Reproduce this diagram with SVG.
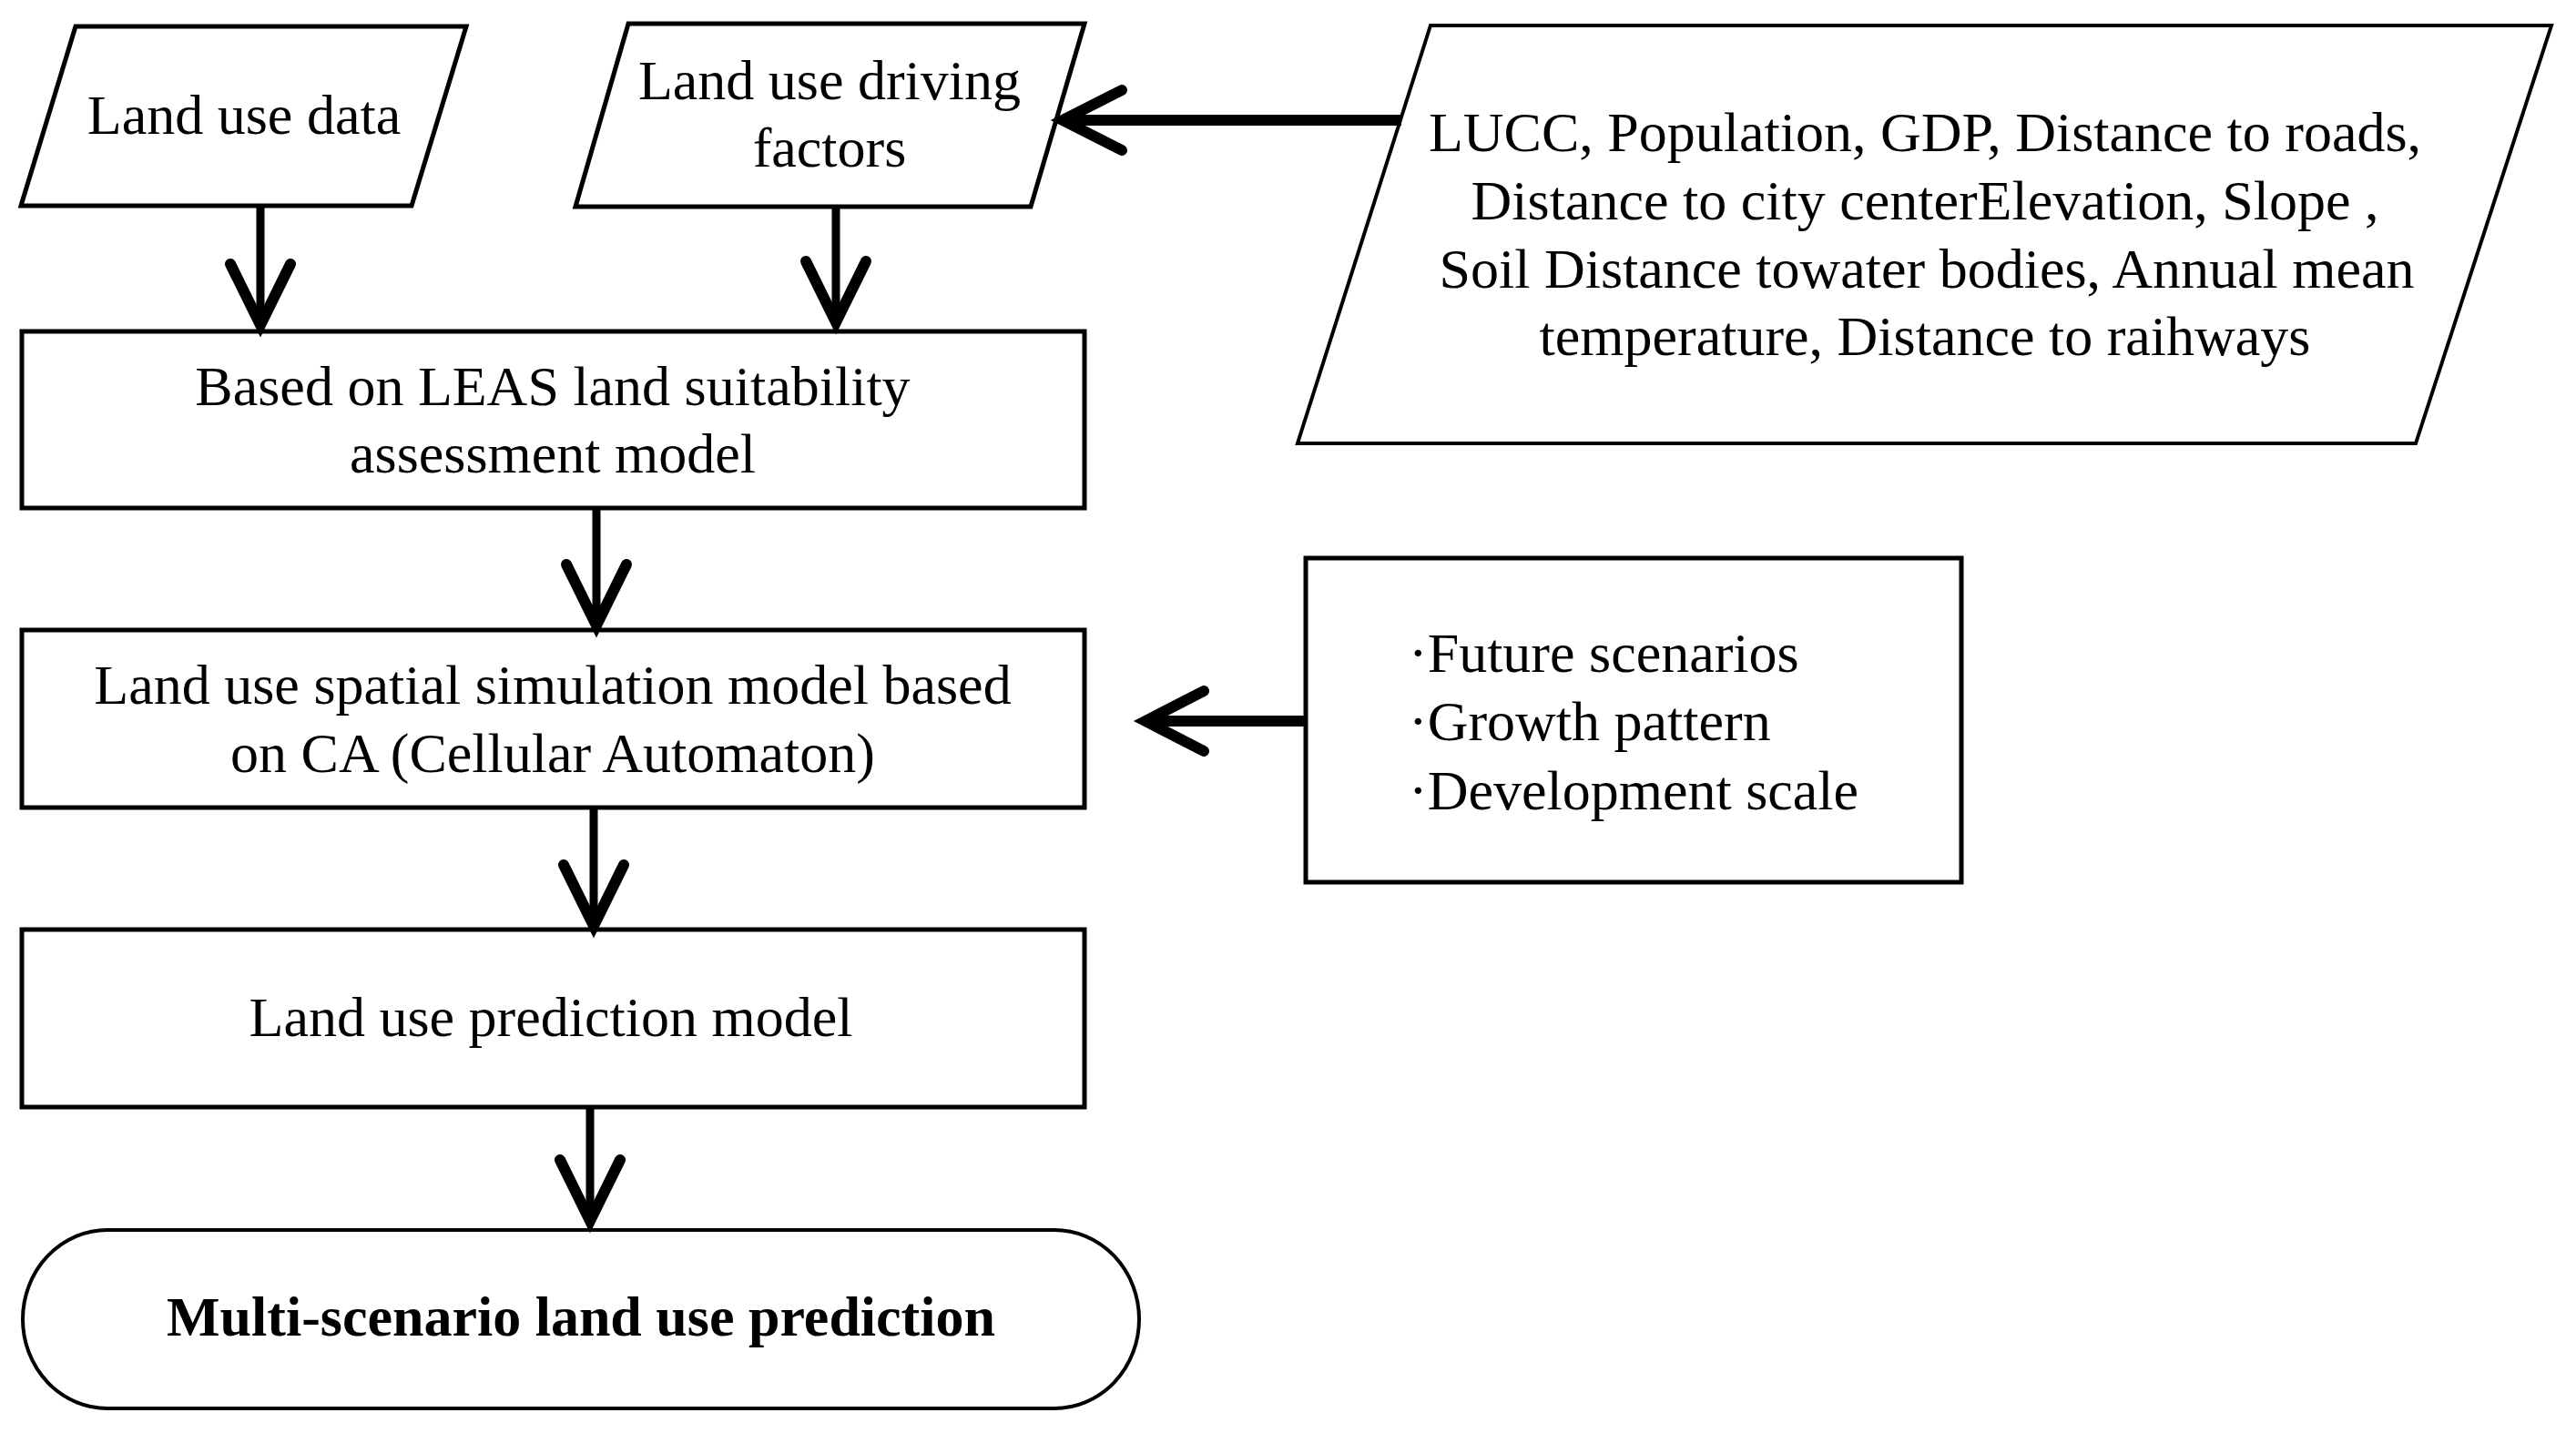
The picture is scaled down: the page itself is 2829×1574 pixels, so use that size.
<svg xmlns="http://www.w3.org/2000/svg" width="2829" height="1574" viewBox="0 0 2829 1574">
<style>
.shape{fill:#fff;stroke:#000;stroke-width:5;stroke-linejoin:miter}
.thin{fill:#fff;stroke:#000;stroke-width:4}
text{font-family:"Liberation Serif","Times New Roman",serif;font-size:62px;fill:#000}
.c{text-anchor:middle}
.b{font-weight:bold}
.stem{stroke:#000;stroke-width:9;fill:none}
.hstem{stroke:#000;stroke-width:12;fill:none}
.head{stroke:#000;stroke-width:12;fill:none;stroke-linecap:round;stroke-linejoin:miter;stroke-miterlimit:10}
</style>
<rect width="2829" height="1574" fill="#fff"/>
<g id="land-use-data">
<polygon class="shape" points="83,29 512,29 452,226 23,226"/>
<text class="c" x="268" y="147">Land use data</text>
</g>
<g id="driving-factors">
<polygon class="shape" points="690,26 1191,26 1132,227 632,227"/>
<text class="c" x="911" y="109">Land use driving</text>
<text class="c" x="911" y="183">factors</text>
</g>
<g id="factor-list">
<polygon class="thin" points="1571,28 2802,28 2653,487 1425,487"/>
<text class="c" x="2114" y="166">LUCC, Population, GDP, Distance to roads,</text>
<text class="c" x="2114" y="241">Distance to city centerElevation, Slope ,</text>
<text class="c" x="2116" y="316">Soil Distance towater bodies, Annual mean</text>
<text class="c" x="2114" y="390">temperature, Distance to raihways</text>
</g>
<g id="leas">
<rect class="shape" x="24" y="364" width="1167" height="194"/>
<text class="c" x="607" y="445">Based on LEAS land suitability</text>
<text class="c" x="607" y="519">assessment model</text>
</g>
<g id="ca-model">
<rect class="shape" x="24" y="692" width="1167" height="195"/>
<text class="c" x="607" y="773">Land use spatial simulation model based</text>
<text class="c" x="607" y="848">on CA (Cellular Automaton)</text>
</g>
<g id="scenarios">
<rect class="shape" x="1434" y="613" width="720" height="356"/>
<text x="1547" y="738">·Future scenarios</text>
<text x="1547" y="813">·Growth pattern</text>
<text x="1547" y="889">·Development scale</text>
</g>
<g id="prediction-model">
<rect class="shape" x="24" y="1021" width="1167" height="195"/>
<text class="c" x="605" y="1138">Land use prediction model</text>
</g>
<g id="result">
<path class="thin" d="M118 1351 H1158 A93 98 0 0 1 1158 1547 H118 A93 98 0 0 1 118 1351 Z"/>
<text class="c b" x="638" y="1467">Multi-scenario land use prediction</text>
</g>
<g id="connectors">
<line class="stem" x1="286" y1="226" x2="286" y2="352"/>
<polyline class="head" points="253,290 286,357 319,290"/>
<line class="stem" x1="918" y1="227" x2="918" y2="349"/>
<polyline class="head" points="885,287 918,354 951,287"/>
<line class="stem" x1="655" y1="558" x2="655" y2="682"/>
<polyline class="head" points="622,620 655,687 688,620"/>
<line class="stem" x1="652" y1="887" x2="652" y2="1012"/>
<polyline class="head" points="619,950 652,1017 685,950"/>
<line class="stem" x1="648" y1="1216" x2="648" y2="1336"/>
<polyline class="head" points="615,1274 648,1341 681,1274"/>
<line class="hstem" x1="1539" y1="132" x2="1172" y2="132"/>
<polyline class="head" points="1232,99 1167,132 1232,165"/>
<line class="hstem" x1="1434" y1="792" x2="1263" y2="792"/>
<polyline class="head" points="1322,759 1258,792 1322,825"/>
</g>
</svg>
